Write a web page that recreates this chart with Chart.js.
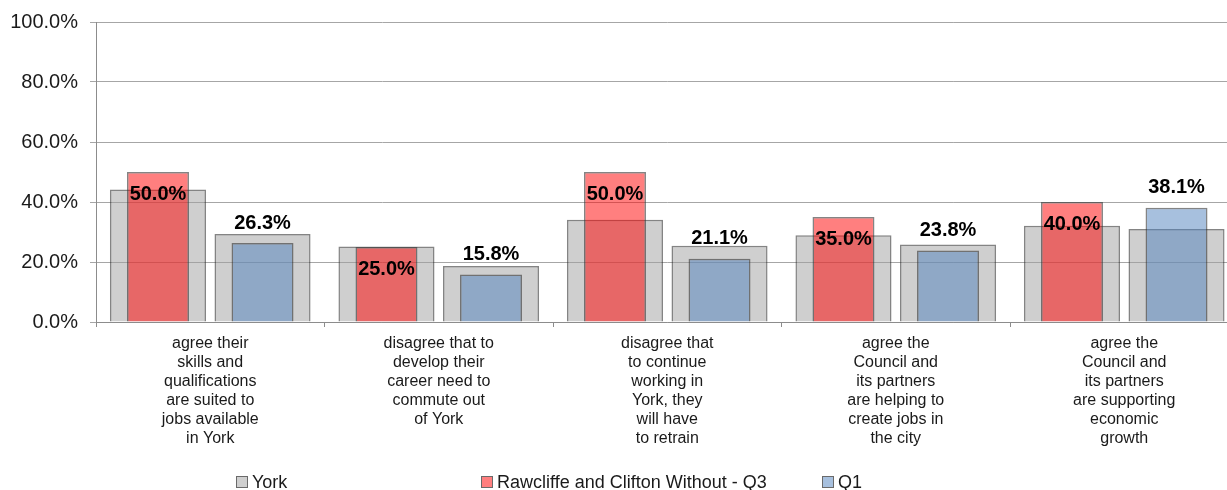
<!DOCTYPE html>
<html>
<head>
<meta charset="utf-8">
<script src="https://cdn.jsdelivr.net/npm/chart.js@4/dist/chart.umd.min.js"></script>
<style>
    html, body { margin: 0; padding: 0; background: #fff; overflow: hidden; }
    #wrap { position: relative; width: 1240px; height: 490px; }
    #legend { position: absolute; left: 0; top: 472px; width: 1240px; height: 20px;
              font: 18px "Liberation Sans", Arial, sans-serif; color: #1a1a1a; }
    .item { position: absolute; top: 0; white-space: nowrap; display: flex; align-items: center; height: 20px; }
    .box { width: 10px; height: 10px; margin-right: 4px; border: 1px solid #6a6a6a; }
</style>
</head>
<body>
<div id="wrap">
    <canvas id="chart" width="1240" height="490"></canvas>
    <div id="legend"></div>
</div>
<script>
// category labels, one line per array entry
const categories = [
    ['agree their', 'skills and', 'qualifications', 'are suited to', 'jobs available', 'in York'],
    ['disagree that to', 'develop their', 'career need to', 'commute out', 'of York'],
    ['disagree that', 'to continue', 'working in', 'York, they', 'will have', 'to retrain'],
    ['agree the', 'Council and', 'its partners', 'are helping to', 'create jobs in', 'the city'],
    ['agree the', 'Council and', 'its partners', 'are supporting', 'economic', 'growth']
];
// York comparison bars (wide grey), one behind each local bar
const yorkQ3 = [44.2, 25.2, 34.1, 28.9, 32.1];
const yorkQ1 = [29.3, 18.7, 25.4, 25.8, 31.0];
// Rawcliffe and Clifton Without
const rawcliffeQ3 = [50.0, 25.0, 50.0, 35.0, 40.0];
const rawcliffeQ1 = [26.3, 15.8, 21.1, 23.8, 38.1];
const yTicks = [0, 20, 40, 60, 80, 100];

const legendItems = [
    { text: 'York', fill: 'rgba(160,160,160,0.5)', left: 236 },
    { text: 'Rawcliffe and Clifton Without - Q3', fill: 'rgba(255,0,0,0.5)', left: 481 },
    { text: 'Q1', fill: 'rgba(79,129,189,0.5)', left: 822 }
];

const FONT = '"Liberation Sans", Arial, sans-serif';
const EDGE = 'rgba(50,50,50,0.6)';

const valueLabels = {
    id: 'valueLabels',
    afterDatasetsDraw(chart) {
        const ctx = chart.ctx;
        ctx.save();
        ctx.font = 'bold 20px ' + FONT;
        ctx.fillStyle = '#000';
        ctx.textAlign = 'center';
        ctx.textBaseline = 'middle';
        chart.data.datasets.forEach((ds, i) => {
            if (!ds.labelPos) return;
            chart.getDatasetMeta(i).data.forEach((bar, j) => {
                const y = ds.labelPos === 'inside' ? bar.y + 22 : bar.y - 20;
                ctx.fillText(ds.data[j].toFixed(1) + '%', bar.x, y);
            });
        });
        ctx.restore();
    }
};

// same "stack" name = same slot in the group; y is not stacked, so bars overlap
function barSet(label, data, slot, color, order, widthPct, labelPos) {
    return {
        label: label,
        data: data,
        stack: slot,
        order: order,
        backgroundColor: color,
        borderColor: EDGE,
        borderWidth: 1.5,
        categoryPercentage: 0.915,
        barPercentage: widthPct,
        labelPos: labelPos
    };
}

new Chart(document.getElementById('chart'), {
    type: 'bar',
    data: {
        labels: categories,
        datasets: [
            barSet('Rawcliffe and Clifton Without - Q3', rawcliffeQ3, 'q3', 'rgba(255,0,0,0.5)', 1, 0.593, 'inside'),
            barSet('Q1', rawcliffeQ1, 'q1', 'rgba(79,129,189,0.5)', 1, 0.593, 'above'),
            barSet('York', yorkQ3, 'q3', 'rgba(160,160,160,0.5)', 2, 0.919, null),
            barSet('York', yorkQ1, 'q1', 'rgba(160,160,160,0.5)', 2, 0.919, null)
        ]
    },
    options: {
        responsive: false,
        animation: false,
        layout: { padding: { top: 22, right: 1.5, left: 0, bottom: 0 } },
        plugins: {
            legend: { display: false },
            tooltip: { enabled: false }
        },
        scales: {
            x: {
                offset: true,
                afterFit: function (scale) { scale.height = 168; },
                grid: { drawOnChartArea: false, tickLength: 5, color: '#8c8c8c' },
                border: { color: '#8c8c8c' },
                ticks: {
                    maxRotation: 0,
                    autoSkip: false,
                    padding: 7,
                    color: '#1a1a1a',
                    font: { family: FONT, size: 16, lineHeight: 1.19 }
                }
            },
            y: {
                stacked: false,
                min: yTicks[0],
                max: yTicks[yTicks.length - 1],
                afterFit: function (scale) {
                    scale.width = 96;
                    scale.paddingTop = 0;
                },
                afterBuildTicks: function (scale) {
                    scale.ticks = yTicks.map(v => ({ value: v }));
                },
                grid: { color: '#a6a6a6', tickLength: 6 },
                border: { color: '#8c8c8c' },
                ticks: {
                    padding: 12,
                    color: '#1a1a1a',
                    font: { family: FONT, size: 20, lineHeight: 1 },
                    callback: function (value) {
                        return value.toFixed(1) + '%';
                    }
                }
            }
        }
    },
    plugins: [valueLabels]
});

const legend = document.getElementById('legend');
legendItems.forEach(item => {
    const el = document.createElement('div');
    el.className = 'item';
    el.style.left = item.left + 'px';
    const box = document.createElement('span');
    box.className = 'box';
    box.style.background = item.fill;
    el.appendChild(box);
    el.appendChild(document.createTextNode(item.text));
    legend.appendChild(el);
});
</script>
</body>
</html>
